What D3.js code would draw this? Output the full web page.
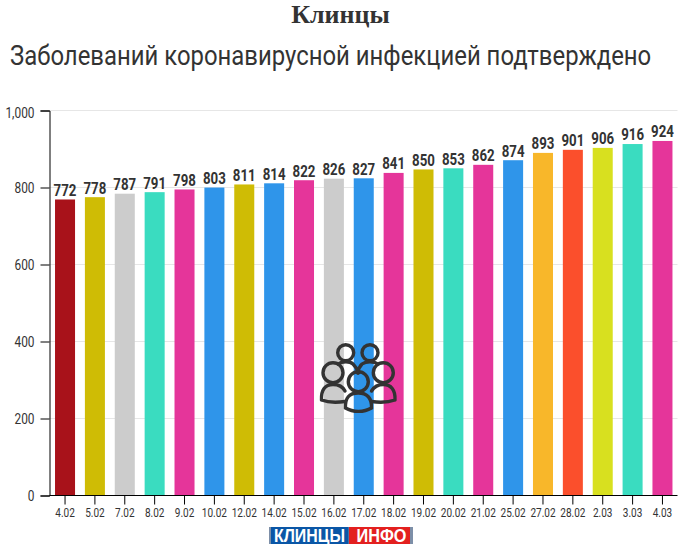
<!DOCTYPE html>
<html><head><meta charset="utf-8">
<script src="https://cdn.jsdelivr.net/npm/d3@7"></script>
<style>html,body{margin:0;padding:0;background:#fff}svg{display:block}text{font-family:Roboto,sans-serif}</style>
</head><body><svg id="c" width="693" height="552"></svg>
<script>
const categories=["4.02","5.02","7.02","8.02","9.02","10.02","12.02","14.02","15.02","16.02","17.02","18.02","19.02","20.02","21.02","25.02","27.02","28.02","2.03","3.03","4.03"];
const values=[772,778,787,791,798,803,811,814,822,826,827,841,850,853,862,874,893,901,906,916,924];
const yTicks=[0,200,400,600,800,1000];
const barColors=["#a8121a","#cfbc05","#cccccc","#3adcc0","#e5359a","#2f95ea","#cfbc05","#2f95ea","#e5359a","#cccccc","#2f95ea","#e5359a","#cfbc05","#3adcc0","#e5359a","#2f95ea","#f8b72a","#fb4f2c","#d8e01f","#3adcc0","#e5359a"];
const title="Клинцы", subtitle="Заболеваний коронавирусной инфекцией подтверждено";

const svg=d3.select("#c");
const m={l:49.5,r:677.5,t:110.5,b:495.5};
const x=d3.scaleBand().domain(categories).range([m.l,m.r+0.5]).paddingInner(0.33).paddingOuter(0.185);
const y=d3.scaleLinear().domain([0,1000]).range([m.b,m.t]);
const dark="#333";
const barInset=1.2;

function cond(sel,sx){sel.each(function(){const s=d3.select(this),a=+s.attr("x"),b=+s.attr("y");
  s.attr("transform",`translate(${a},${b}) scale(${sx},1)`).attr("x",0).attr("y",0);});return sel;}

svg.append("text").attr("x",340.5).attr("y",23).attr("text-anchor","middle")
  .style("font-family","'Liberation Serif',serif").style("font-weight","700").style("font-size","26px").attr("fill",dark).text(title);
svg.append("text").attr("x",10).attr("y",65).style("font-size","27.5px").attr("fill",dark).text(subtitle).call(cond,0.869);

svg.append("g").selectAll("line").data(yTicks.filter(d=>d>0)).join("line")
  .attr("x1",m.l).attr("x2",m.r).attr("y1",d=>y(d)).attr("y2",d=>y(d)).attr("stroke","#e6e6e6");

svg.append("g").selectAll("rect").data(values).join("rect")
  .attr("x",(d,i)=>x(categories[i])).attr("width",x.bandwidth())
  .attr("y",d=>y(d)+barInset).attr("height",d=>y(0)-y(d)-barInset).attr("fill",(d,i)=>barColors[i]);

svg.append("g").selectAll("text").data(values).join("text")
  .attr("x",(d,i)=>x(categories[i])+x.bandwidth()/2).attr("y",d=>y(d)-2.4)
  .attr("text-anchor","middle").style("font-size","16px").style("font-weight","700").attr("fill",dark)
  .text(d=>d).call(cond,0.83);

const ay=svg.append("g").attr("transform",`translate(${m.l},0)`).call(d3.axisLeft(y).tickValues(yTicks).tickSize(9).tickPadding(6).tickFormat(d3.format(",")));
ay.selectAll("path,line").attr("stroke","#000");
ay.selectAll("text").style("font-size","14.5px").attr("fill",dark).each(function(d){
  const t=d3.select(this);const xx=+t.attr("x");
  t.attr("transform",`translate(${xx},${d===1000?2.5:0}) scale(0.82,1)`).attr("x",0);});
const ax=svg.append("g").attr("transform",`translate(0,${m.b})`).call(d3.axisBottom(x).tickSize(9).tickPadding(3).tickSizeOuter(0));
ax.selectAll("path,line").attr("stroke","#000");
ax.select("path").attr("d",`M${m.l},0H${m.r}`);
ax.selectAll("text").style("font-size","13px").attr("fill",dark).attr("transform","scale(0.77,1)");

// people icon
const icon=svg.append("g").attr("fill","none").attr("stroke","#333").attr("stroke-width",3.4).attr("stroke-linecap","round");
const heads=[[345.7,352.7,8],[370,352.7,8],[333,372.7,10],[383.3,372.7,10],[358.3,381.7,10]];
icon.selectAll("circle").data(heads).join("circle").attr("cx",d=>d[0]).attr("cy",d=>d[1]).attr("r",d=>d[2]);
const bodies=[
 "M338,364C342,361 350,361 353,364C356,367 358,371 358.5,373",
 "M378,364C374,361 366,361 362,364C359,367 358,371 357.5,373",
 "M321.5,400C321,390 325,384.500 333,384.500C339,384.500 343,387 345,391M321.500,400C328,402.500 338,402.500 345,401.500",
 "M395,400C395.500,390 391,384.500 383.300,384.500C378,384.500 374,387 371.500,391M395,400C388,402.500 378,402.500 371.500,401.500",
 "M345.500,408C345,398 349,393 358.300,393C367,393 372,398 371.500,408C364,412.500 353,412.500 345.500,408Z"];
icon.selectAll("path").data(bodies).join("path").attr("d",d=>d);

// logo
const logo=svg.append("g");
logo.append("rect").attr("x",269).attr("y",527).attr("width",144).attr("height",17).attr("fill","#7d8fa8");
logo.append("rect").attr("x",271).attr("y",527).attr("width",77.5).attr("height",17).attr("fill","#0a56a6");
logo.append("rect").attr("x",349).attr("y",527).attr("width",61).attr("height",17).attr("fill","#e3201f");
const logoText=[["КЛИНЦЫ",274,71],["ИНФО",356.5,50]];
logo.selectAll("text").data(logoText).join("text").attr("x",d=>d[1]).attr("y",541.5).attr("textLength",d=>d[2]).attr("lengthAdjust","spacingAndGlyphs")
  .style("font-family","'Liberation Sans',sans-serif").style("font-size","18px").style("font-weight","700").attr("fill","#fff").text(d=>d[0]);
</script></body></html>
